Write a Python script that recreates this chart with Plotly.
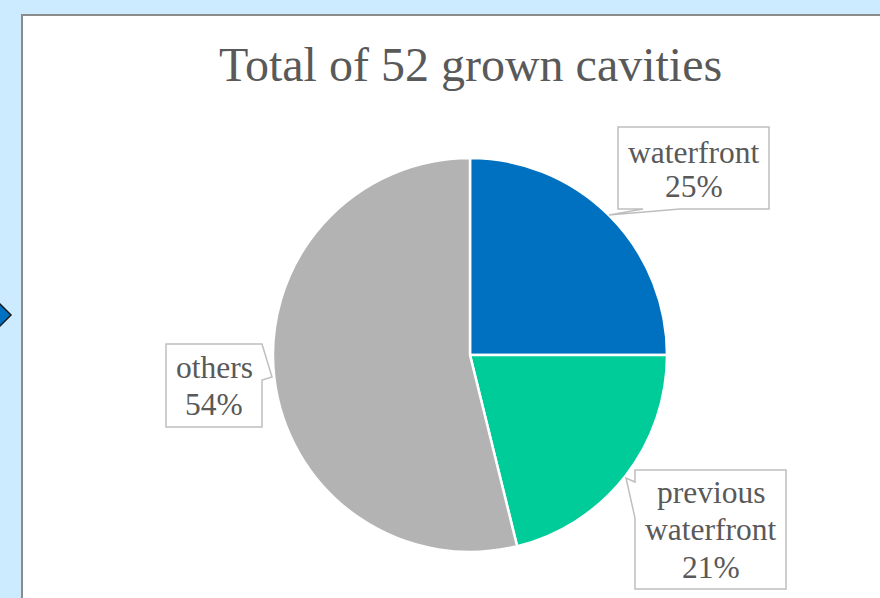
import plotly.graph_objects as go

# Data
categories = ["waterfront", "previous waterfront", "others"]
counts = [13, 11, 28]
colors = ["#0070C0", "#00CC99", "#B3B3B3"]
title_text = "Total of " + str(sum(counts)) + " grown cavities"

W, H = 880, 598
FONT = "'Liberation Serif', 'Times New Roman', Tinos, Times, serif"
TXT = "#595959"

total = sum(counts)
pcts = [round(100 * c / total) for c in counts]

fig = go.Figure()

# pie: centre (470,355), radius 197 px
cx, cy, r = 470, 355, 197
fig.add_trace(go.Pie(
    labels=categories, values=counts, sort=False, direction="clockwise",
    rotation=0, textinfo="none", hoverinfo="label+percent",
    marker=dict(colors=colors, line=dict(color="white", width=2.5)),
    domain=dict(x=[(cx - r) / W, (cx + r) / W], y=[1 - (cy + r) / H, 1 - (cy - r) / H]),
    showlegend=False,
))

# invisible pixel-coordinate axes for shapes / annotations
fig.update_layout(
    xaxis=dict(range=[0, W], visible=False, fixedrange=True, domain=[0, 1]),
    yaxis=dict(range=[H, 0], visible=False, fixedrange=True, domain=[0, 1]),
)

shapes = []
# white chart area
shapes.append(dict(type="rect", xref="x", yref="y", x0=22, y0=15, x1=W + 20, y1=H + 20,
                   fillcolor="white", line=dict(color="#8C8C8C", width=2), layer="below"))
# diamond marker on the left edge
shapes.append(dict(type="path", xref="x", yref="y",
                   path="M -11,315 L 0,304 L 11,315 L 0,326 Z",
                   fillcolor="#0070C0", line=dict(color="#1a1a1a", width=1.5), layer="above"))

callouts = [
    "M 618,127 L 769,127 L 769,209 L 680,209 L 609,215 L 643,209 L 618,209 Z",
    "M 635,470 L 786,470 L 786,589 L 635,589 L 635,518 L 626,478 L 635,482 Z",
    "M 166,344 L 262,344 L 272,377 L 262,380 L 262,427 L 166,427 Z",
]
for p in callouts:
    shapes.append(dict(type="path", xref="x", yref="y", path=p, fillcolor="white",
                       line=dict(color="#BFBFBF", width=1.5), layer="above"))

# label lines: (x centre, list of line middles)
label_pos = [(693.5, [152.5, 186.5]), (710.5, [492.5, 529.5, 567.5]), (214, [367.5, 404.5])]
label_lines = [["waterfront"], ["previous", "waterfront"], ["others"]]
annotations = []
for (x, ys), lines, p in zip(label_pos, label_lines, pcts):
    for y, t in zip(ys, lines + [f"{p}%"]):
        annotations.append(dict(x=x, y=y, xref="x", yref="y", text=t,
                                showarrow=False, xanchor="center", yanchor="middle",
                                font=dict(family=FONT, size=31.5, color=TXT)))
annotations.append(dict(x=470, y=64, xref="x", yref="y", text=title_text, showarrow=False,
                        xanchor="center", yanchor="middle",
                        font=dict(family=FONT, size=48, color=TXT)))

fig.update_layout(
    width=W, height=H, margin=dict(l=0, r=0, t=0, b=0),
    paper_bgcolor="#CCEBFF", plot_bgcolor="rgba(0,0,0,0)",
    shapes=shapes, annotations=annotations,
)

fig.write_html("out.html", config={"displayModeBar": False},
               post_script="document.body.style.margin='0';document.body.style.padding='0';")
